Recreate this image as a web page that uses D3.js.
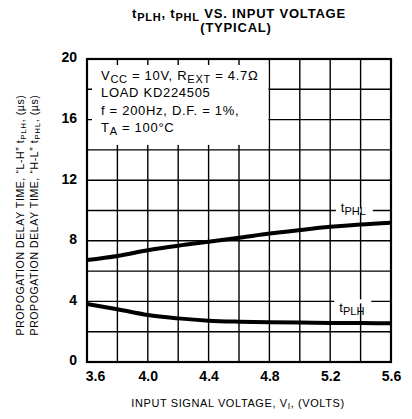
<!DOCTYPE html>
<meta charset="utf-8">
<style>
body { margin: 0; background: #fff; }
text { font-family: "Liberation Sans", Arial, sans-serif; fill: #000; }
.grid line { stroke: #000; stroke-width: 1.4px; }
.tick text { font-size: 14px; font-weight: bold; }
</style>
<body>
<script src="https://d3js.org/d3.v7.min.js"></script>
<script>

// data
var voltage = [3.6, 3.8, 4.0, 4.2, 4.4, 4.6, 4.8, 5.0, 5.2, 5.4, 5.6];
var tPHL    = [6.73, 7.0, 7.38, 7.68, 7.94, 8.2, 8.48, 8.71, 8.92, 9.08, 9.2];
var tPLH    = [3.83, 3.48, 3.1, 2.88, 2.73, 2.66, 2.62, 2.6, 2.58, 2.57, 2.56];
var xTicks  = [3.6, 4.0, 4.4, 4.8, 5.2, 5.6];
var yTicks  = [0, 4, 8, 12, 16, 20];
var xGrid   = d3.range(3.6, 5.61, 0.2);
var yGrid   = d3.range(0, 20.1, 2);
var noteLines = [
  ["V", "CC", " = 10V, R", "EXT", " = 4.7\u03a9"],
  ["LOAD KD224505"],
  ["f = 200Hz, D.F. = 1%,"],
  ["T", "A", " = 100\u00b0C"]
];

var margin = {top: 59, right: 21, bottom: 57, left: 87},
    width = 412 - margin.left - margin.right,
    height = 419 - margin.top - margin.bottom;

var x = d3.scaleLinear().domain([3.6, 5.6]).range([0, width]);
var y = d3.scaleLinear().domain([0, 20]).range([height, 0]);

var svg = d3.select("body").append("svg")
    .attr("width", 412)
    .attr("height", 419);

// title
var title = svg.append("text")
    .attr("x", 239).attr("y", 18)
    .attr("text-anchor", "middle")
    .style("font-size", "13px").style("font-weight", "bold")
    .style("letter-spacing", "0.8px");
title.append("tspan").text("t");
title.append("tspan").attr("baseline-shift", "-25%").style("font-size", "11px").text("PLH");
title.append("tspan").text(", t");
title.append("tspan").attr("baseline-shift", "-25%").style("font-size", "11px").text("PHL");
title.append("tspan").text(" VS. INPUT VOLTAGE");
svg.append("text")
    .attr("x", 236).attr("y", 32)
    .attr("text-anchor", "middle")
    .style("font-size", "13px").style("font-weight", "bold")
    .style("letter-spacing", "0.8px")
    .text("(TYPICAL)");

var g = svg.append("g")
    .attr("transform", "translate(" + margin.left + "," + margin.top + ")");

// grid
g.append("g").attr("class", "grid")
  .selectAll("line").data(xGrid).enter().append("line")
    .attr("x1", function(d) { return x(d); })
    .attr("x2", function(d) { return x(d); })
    .attr("y1", 0).attr("y2", height);
g.append("g").attr("class", "grid")
  .selectAll("line").data(yGrid).enter().append("line")
    .attr("x1", 0).attr("x2", width)
    .attr("y1", function(d) { return y(d); })
    .attr("y2", function(d) { return y(d); });

// white note box over the grid (leaves small stubs at its edges)
g.append("rect")
    .attr("x", x(3.6) + 5)
    .attr("y", y(20) + 6)
    .attr("width", x(4.8) - x(3.6) - 6)
    .attr("height", y(14) - y(20) - 11)
    .attr("fill", "#fff");

var note = g.append("text")
    .style("font-size", "13px")
    .style("letter-spacing", "0.7px");
noteLines.forEach(function(parts, i) {
  var line = note.append("tspan")
      .attr("x", 14)
      .attr("y", 21 + i * 17.3);
  parts.forEach(function(p, j) {
    var t = line.append("tspan").text(p);
    if (j % 2 == 1) t.attr("baseline-shift", "-25%").style("font-size", "11px");
  });
});

// frame
g.append("rect")
    .attr("width", width).attr("height", height)
    .attr("fill", "none").attr("stroke", "#000").attr("stroke-width", 2.2);

// curves
var line = d3.line()
    .curve(d3.curveMonotoneX)
    .x(function(d, i) { return x(voltage[i]); })
    .y(function(d) { return y(d); });

[tPHL, tPLH].forEach(function(s) {
  g.append("path")
      .datum(s)
      .attr("fill", "none")
      .attr("stroke", "#000")
      .attr("stroke-width", 4)
      .attr("d", line);
});

// curve labels with a white gap in the grid line
function curveLabel(v, val, gridVal, sub) {
  g.append("rect")
      .attr("x", x(v) - 5).attr("y", y(gridVal) - 2)
      .attr("width", 37).attr("height", 4)
      .attr("fill", "#fff");
  var t = g.append("text")
      .attr("x", x(v)).attr("y", y(val))
      .style("font-size", "13px");
  t.append("tspan").text("t");
  t.append("tspan").attr("baseline-shift", "-30%").style("font-size", "11px").text(sub);
}
curveLabel(5.27, 9.9, 10, "PHL");
curveLabel(5.26, 3.3, 4, "PLH");

// axes
var xAxis = g.append("g")
    .attr("transform", "translate(0," + height + ")")
    .call(d3.axisBottom(x).tickValues(xTicks).tickSize(0).tickPadding(9)
      .tickFormat(d3.format(".1f")));
xAxis.select(".domain").remove();
xAxis.selectAll(".tick text").filter(function(d) { return d == 3.6; }).attr("dx", 8);

var yAxis = g.append("g")
    .call(d3.axisLeft(y).tickValues(yTicks).tickSize(0).tickPadding(10));
yAxis.select(".domain").remove();
yAxis.selectAll(".tick text").attr("dy", "0.2em");

// axis titles
var xt = svg.append("text")
    .attr("x", 238).attr("y", 407)
    .attr("text-anchor", "middle")
    .style("font-size", "11px")
    .style("letter-spacing", "0.6px");
xt.append("tspan").text("INPUT SIGNAL VOLTAGE, V");
xt.append("tspan").attr("baseline-shift", "-25%").style("font-size", "8.5px").text("I");
xt.append("tspan").text(", (VOLTS)");

function yTitle(xpos, quote, sub) {
  var t = svg.append("text")
      .attr("transform", "translate(" + xpos + ",215) rotate(-90)")
      .attr("text-anchor", "middle")
      .style("font-size", "10.5px")
      .style("letter-spacing", "0.6px");
  t.append("tspan").text("PROPOGATION DELAY TIME, \u201c" + quote + "\u201d t");
  t.append("tspan").attr("baseline-shift", "-25%").style("font-size", "8px").text(sub);
  t.append("tspan").text(", (\u00b5s)");
}
yTitle(24, "L-H", "PLH");
yTitle(38, "H-L", "PHL");

</script>
</body>
